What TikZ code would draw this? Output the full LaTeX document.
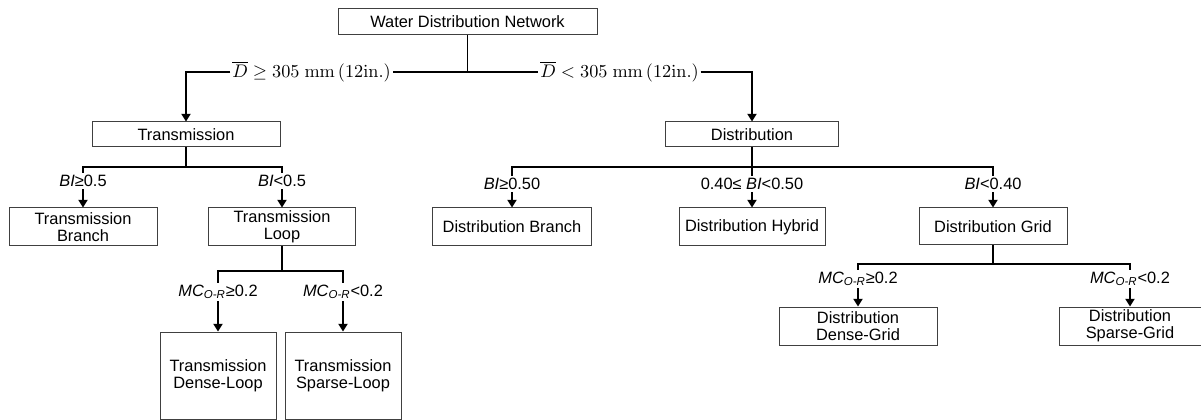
\documentclass[tikz,border=0pt]{standalone}
\usepackage[no-math]{fontspec}
\setmainfont{Liberation Sans}
\usepackage{amsmath}
\usetikzlibrary{arrows.meta}

\tikzset{
  box/.style={draw=black!75, line width=0.6pt, align=center, inner sep=0pt,
    font=\fontsize{9.84}{10}\selectfont},
  cond/.style={inner sep=1.2pt, font=\fontsize{9.84}{10}\selectfont},
  dcond/.style={inner sep=1pt, font=\fontsize{10.6}{12}\selectfont},
  link/.style={line width=0.9pt},
  arr/.style={link, -{Triangle[width=5.5pt,length=4.6pt]}},
}

\begin{document}
\begin{tikzpicture}[x=0.6pt,y=-0.6pt]
  \useasboundingbox (0,0) rectangle (1201,420);
  % Boxes
  \node[box, minimum width=155.4pt, minimum height=15.6pt] (wdn) at (467.5,22) {Water Distribution Network};
  \node[box, minimum width=112.8pt, minimum height=15pt] (trans) at (186,134.5) {Transmission};
  \node[box, minimum width=103.8pt, minimum height=15pt] (dist) at (752,134.5) {Distribution};
  \node[box, minimum width=88.8pt, minimum height=22.8pt] (tBranch) at (83,227) {Transmission\\Branch};
  \node[box, minimum width=88.2pt, minimum height=22.8pt] (tLoop) at (282,227) {Transmission\\Loop};
  \node[box, minimum width=69.6pt, minimum height=52.2pt] (tDense) at (218,375.5) {Transmission\\Dense-Loop};
  \node[box, minimum width=69.6pt, minimum height=52.2pt] (tSparse) at (343,375.5) {Transmission\\Sparse-Loop};
  \node[box, minimum width=95.4pt, minimum height=22.8pt] (dBranch) at (512,227) {Distribution Branch};
  \node[box, minimum width=87.6pt, minimum height=22.8pt] (dHybrid) at (752,227) {Distribution Hybrid};
  \node[box, minimum width=88.8pt, minimum height=22.2pt] (dGrid) at (993,226.5) {Distribution Grid};
  \node[box, minimum width=94.8pt, minimum height=22.8pt] (dDense) at (858,326) {Distribution\\Dense-Grid};
  \node[box, minimum width=85.2pt, minimum height=22.8pt] (dSparse) at (1130,326) {Distribution\\Sparse-Grid};
  %
  % Conditions
  \node[dcond] (dBig) at (311.5,72) {$\overline{D} \geq 305\ \mathrm{mm}\,(12\mathrm{in.})$};
  \node[dcond] (dSmall) at (619.5,72) {$\overline{D} < 305\ \mathrm{mm}\,(12\mathrm{in.})$};
  \node[cond] (biT1) at (83,181) {\textit{BI}≥0.5};
  \node[cond] (biT2) at (282,181) {\textit{BI}<0.5};
  \node[cond] (mcT1) at (218,292) {\textit{MC}\textsubscript{\textit{O-R}}≥0.2};
  \node[cond] (mcT2) at (343,292) {\textit{MC}\textsubscript{\textit{O-R}}<0.2};
  \node[cond] (biD1) at (512,184) {\textit{BI}≥0.50};
  \node[cond] (biD2) at (752,184) {0.40≤ \textit{BI}<0.50};
  \node[cond] (biD3) at (993,184) {\textit{BI}<0.40};
  \node[cond] (mcD1) at (858,279) {\textit{MC}\textsubscript{\textit{O-R}}≥0.2};
  \node[cond] (mcD2) at (1130,279) {\textit{MC}\textsubscript{\textit{O-R}}<0.2};
  %
  % Top split
  \coordinate (hub) at (467.5,72);
  \draw[link] (wdn.south) -- (hub);
  \draw[link] (hub) -- (dBig.east);
  \draw[link] (hub) -- (dSmall.west);
  \draw[arr] (dBig.west) -| (trans.north);
  \draw[arr] (dSmall.east) -| (dist.north);
  %
  % Transmission split
  \coordinate (tHub) at (186,167);
  \draw[link] (trans.south) -- (tHub);
  \draw[link] (biT1.north) |- (tHub) -| (biT2.north);
  \draw[arr] (biT1.south) -- (tBranch.north);
  \draw[arr] (biT2.south) -- (tLoop.north);
  \coordinate (lHub) at (282,271);
  \draw[link] (tLoop.south) -- (lHub);
  \draw[link] (mcT1.north) |- (lHub) -| (mcT2.north);
  \draw[arr] (mcT1.south) -- (tDense.north);
  \draw[arr] (mcT2.south) -- (tSparse.north);
  %
  % Distribution split
  \coordinate (dHub) at (752,167);
  \draw[link] (dist.south) -- (biD2.north);
  \draw[link] (biD1.north) |- (dHub) -| (biD3.north);
  \draw[arr] (biD1.south) -- (dBranch.north);
  \draw[arr] (biD2.south) -- (dHybrid.north);
  \draw[arr] (biD3.south) -- (dGrid.north);
  \coordinate (gHub) at (993,264);
  \draw[link] (dGrid.south) -- (gHub);
  \draw[link] (mcD1.north) |- (gHub) -| (mcD2.north);
  \draw[arr] (mcD1.south) -- (dDense.north);
  \draw[arr] (mcD2.south) -- (dSparse.north);
\end{tikzpicture}
\end{document}
